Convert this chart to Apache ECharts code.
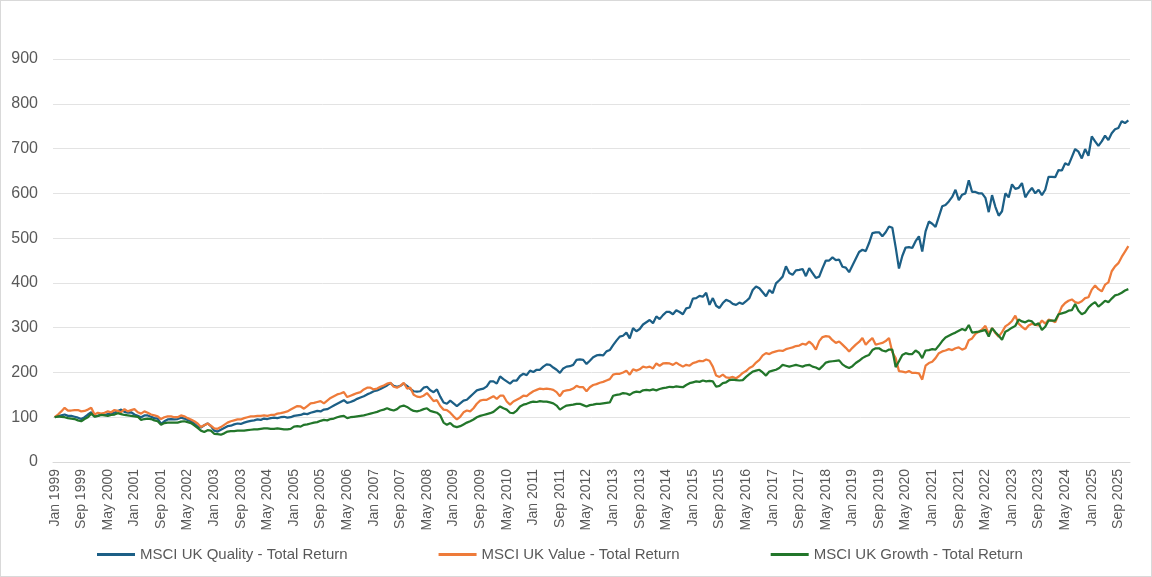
<!DOCTYPE html>
<html>
<head>
<meta charset="utf-8">
<script src="https://cdn.jsdelivr.net/npm/echarts@6/dist/echarts.min.js"></script>
<style>
  html, body { margin: 0; padding: 0; background: #fff; }
  #chart { width: 1152px; height: 577px; box-sizing: border-box; border: 1px solid #d9d9d9; }
</style>
</head>
<body>
<div id="chart"></div>
<script>
// monthly index levels, Jan 1999 = 100, one row per year (Jan..Dec)
const years = []
for (let y = 1999; y <= 2025; y++) years.push(y)
const monthNames = ['Jan', 'Feb', 'Mar', 'Apr', 'May', 'Jun', 'Jul', 'Aug', 'Sep', 'Oct', 'Nov', 'Dec']

const quality = [
  100, 102, 104, 106, 103, 103, 101, 99, 96, 100, 106, 111,   // 1999
  102, 103, 106, 105, 107, 108, 110, 114, 117, 112, 110, 111, // 2000
  106, 103, 100, 104, 104, 101, 98, 97, 85, 91, 95, 96,       // 2001
  95, 96, 99, 97, 94, 91, 86, 79, 77, 82, 86, 80,             // 2002
  70, 68, 72, 76, 80, 81, 84, 86, 85, 88, 90, 92,             // 2003
  93, 95, 94, 97, 96, 98, 99, 98, 100, 101, 99, 100,          // 2004
  103, 104, 105, 108, 107, 110, 112, 114, 113, 117, 118, 122, // 2005
  126, 130, 134, 138, 132, 134, 137, 141, 144, 147, 151, 154, // 2006
  158, 160, 163, 167, 171, 176, 170, 168, 170, 175, 170, 163, // 2007
  158, 157, 158, 166, 168, 160, 156, 162, 146, 133, 130, 137, // 2008
  131, 125, 131, 137, 139, 146, 153, 160, 162, 164, 169, 180, // 2009
  180, 175, 191, 185, 180, 175, 182, 182, 192, 197, 194, 204, // 2010
  201, 206, 206, 213, 218, 217, 211, 206, 199, 209, 213, 214, // 2011
  217, 228, 229, 228, 219, 226, 234, 238, 239, 238, 247, 250, // 2012
  261, 271, 280, 282, 289, 276, 299, 292, 297, 307, 312, 317, // 2013
  310, 325, 319, 328, 335, 335, 330, 339, 335, 330, 343, 345, // 2014
  365, 366, 371, 369, 378, 351, 366, 349, 344, 355, 362, 359, // 2015
  353, 351, 356, 353, 359, 366, 384, 392, 388, 379, 370, 384, // 2016
  377, 399, 406, 414, 437, 422, 418, 428, 429, 431, 415, 433, // 2017
  422, 411, 414, 433, 450, 450, 457, 451, 452, 436, 434, 424, // 2018
  439, 454, 469, 474, 471, 489, 511, 513, 513, 504, 513, 526, // 2019
  523, 480, 432, 460, 479, 480, 478, 493, 504, 470, 515, 537, // 2020
  532, 525, 548, 571, 574, 582, 592, 608, 585, 597, 600, 629, // 2021
  603, 603, 600, 600, 590, 558, 596, 570, 550, 560, 600, 591, // 2022
  620, 610, 612, 623, 591, 603, 612, 600, 608, 596, 608, 637, // 2023
  637, 636, 652, 651, 667, 663, 681, 699, 693, 678, 699, 684, // 2024
  727, 716, 706, 716, 729, 719, 734, 743, 746, 761, 757, 763  // 2025
]

const value = [
  100, 106, 113, 121, 115, 115, 116, 116, 113, 114, 117, 121, // 1999
  106, 110, 108, 110, 113, 111, 116, 114, 111, 118, 113, 116, // 2000
  118, 111, 108, 113, 110, 106, 104, 102, 96, 100, 102, 102,  // 2001
  100, 100, 104, 102, 98, 95, 91, 86, 78, 82, 86, 81,         // 2002
  75, 74, 78, 83, 88, 91, 93, 95, 95, 98, 100, 102,           // 2003
  102, 103, 103, 104, 103, 105, 105, 108, 109, 111, 113, 117, // 2004
  121, 125, 124, 119, 125, 131, 132, 134, 136, 131, 137, 143, // 2005
  147, 151, 153, 156, 145, 148, 151, 154, 156, 162, 166, 166, // 2006
  162, 164, 168, 171, 175, 177, 168, 166, 170, 177, 164, 166, // 2007
  150, 146, 145, 148, 154, 145, 136, 138, 125, 117, 116, 110, // 2008
  102, 95, 101, 111, 115, 113, 120, 130, 137, 139, 139, 143,  // 2009
  147, 141, 148, 148, 135, 128, 135, 139, 143, 148, 147, 153, // 2010
  158, 161, 164, 163, 164, 163, 161, 156, 147, 158, 160, 161, // 2011
  164, 170, 167, 167, 158, 167, 172, 174, 177, 179, 182, 185, // 2012
  195, 197, 197, 200, 204, 195, 207, 204, 207, 213, 211, 213, // 2013
  209, 220, 215, 220, 221, 220, 217, 222, 217, 213, 217, 215, // 2014
  221, 223, 226, 225, 229, 226, 213, 193, 190, 195, 189, 188, // 2015
  190, 187, 192, 199, 203, 210, 214, 222, 228, 238, 243, 241, // 2016
  245, 247, 249, 248, 252, 254, 256, 259, 260, 264, 262, 269, // 2017
  262, 251, 270, 279, 281, 280, 272, 266, 269, 262, 255, 247, // 2018
  255, 262, 268, 277, 262, 270, 277, 262, 264, 266, 270, 277, // 2019
  245, 232, 203, 202, 200, 203, 199, 199, 198, 184, 215, 221, // 2020
  224, 232, 243, 247, 249, 252, 250, 254, 256, 251, 254, 272, // 2021
  276, 286, 291, 296, 304, 286, 299, 288, 280, 290, 303, 308, // 2022
  315, 327, 309, 302, 296, 305, 309, 306, 305, 316, 309, 318, // 2023
  316, 312, 329, 347, 355, 360, 363, 357, 355, 359, 366, 368, // 2024
  385, 394, 386, 381, 396, 401, 426, 437, 444, 458, 470, 482  // 2025
]

const growth = [
  100, 102, 101, 100, 98, 97, 96, 93, 91, 96, 100, 108,       // 1999
  101, 103, 105, 104, 103, 105, 106, 109, 107, 105, 104, 103, // 2000
  102, 101, 94, 96, 97, 96, 93, 91, 83, 87, 88, 88,           // 2001
  88, 88, 90, 91, 89, 87, 82, 76, 70, 67, 71, 70,             // 2002
  63, 62, 61, 64, 68, 69, 69, 70, 70, 70, 71, 72,             // 2003
  73, 73, 74, 75, 75, 74, 74, 75, 74, 73, 73, 74,             // 2004
  79, 80, 79, 83, 84, 86, 88, 89, 92, 94, 93, 96,             // 2005
  97, 100, 102, 103, 98, 100, 101, 102, 103, 104, 106, 108,   // 2006
  110, 112, 115, 117, 120, 117, 115, 118, 124, 126, 123, 118, // 2007
  114, 113, 115, 118, 120, 114, 112, 110, 104, 88, 83, 87,    // 2008
  80, 78, 80, 84, 88, 91, 95, 100, 103, 105, 107, 109,        // 2009
  112, 118, 124, 120, 117, 110, 109, 115, 124, 128, 130, 133, // 2010
  135, 134, 136, 135, 135, 133, 131, 126, 117, 122, 126, 127, // 2011
  128, 130, 130, 127, 124, 127, 128, 130, 130, 131, 132, 133, // 2012
  148, 150, 151, 154, 153, 150, 155, 157, 156, 160, 161, 160, // 2013
  162, 160, 163, 165, 166, 168, 167, 169, 168, 167, 172, 176, // 2014
  178, 180, 179, 182, 180, 181, 180, 168, 170, 176, 178, 183, // 2015
  184, 183, 182, 183, 190, 196, 202, 204, 206, 200, 193, 202, // 2016
  204, 206, 210, 217, 215, 213, 215, 217, 215, 213, 216, 217, // 2017
  213, 211, 207, 214, 222, 224, 225, 226, 227, 218, 213, 210, // 2018
  214, 221, 226, 232, 236, 239, 250, 254, 254, 249, 247, 251, // 2019
  251, 212, 225, 239, 243, 241, 241, 249, 244, 232, 249, 250, // 2020
  252, 251, 260, 270, 278, 282, 286, 289, 293, 297, 294, 306, // 2021
  289, 290, 291, 293, 295, 280, 299, 290, 282, 273, 291, 295, // 2022
  300, 304, 318, 314, 312, 316, 314, 306, 310, 295, 302, 316, // 2023
  316, 316, 330, 332, 334, 338, 339, 353, 338, 330, 334, 345, // 2024
  352, 357, 347, 353, 360, 357, 365, 372, 374, 378, 383, 386  // 2025
]

const seriesNames = [
  'MSCI UK Quality - Total Return',
  'MSCI UK Value - Total Return',
  'MSCI UK Growth - Total Return'
]
const colors = ['#1c5f86', '#ee7b3a', '#22762a']

let months = []
years.forEach(y => monthNames.forEach(m => months.push(m + ' ' + y)))

let myChart = echarts.init(document.getElementById('chart'))
myChart.setOption({
  animation: false,
  textStyle: { fontFamily: 'Liberation Sans, Arial, sans-serif' },
  grid: {
    left: 52,
    right: 21,
    top: 58,
    bottom: 114
  },
  legend: {
    left: 91,
    top: 541,
    itemWidth: 38,
    itemHeight: 3,
    itemGap: 91,
    icon: 'rect',
    textStyle: { fontSize: 15, color: '#595959' },
    data: seriesNames
  },
  xAxis: {
    type: 'category',
    data: months,
    boundaryGap: true,
    axisLine: { lineStyle: { color: '#d9d9d9' } },
    axisTick: { interval: 7, length: 5, lineStyle: { color: '#d9d9d9' } },
    axisLabel: {
      interval: 7,
      rotate: 90,
      margin: 7,
      fontSize: 14,
      color: '#595959'
    }
  },
  yAxis: {
    type: 'value',
    min: 0,
    max: 900,
    interval: 100,
    axisLine: { show: false },
    axisTick: { show: false },
    axisLabel: { fontSize: 16, color: '#595959', margin: 15 },
    splitLine: { lineStyle: { color: '#e3e3e3' } }
  },
  series: [quality, value, growth].map((d, k) => ({
    name: seriesNames[k],
    type: 'line',
    data: d,
    showSymbol: false,
    symbol: 'none',
    lineStyle: { width: 2.25, color: colors[k] },
    itemStyle: { color: colors[k] }
  }))
})
</script>
</body>
</html>
